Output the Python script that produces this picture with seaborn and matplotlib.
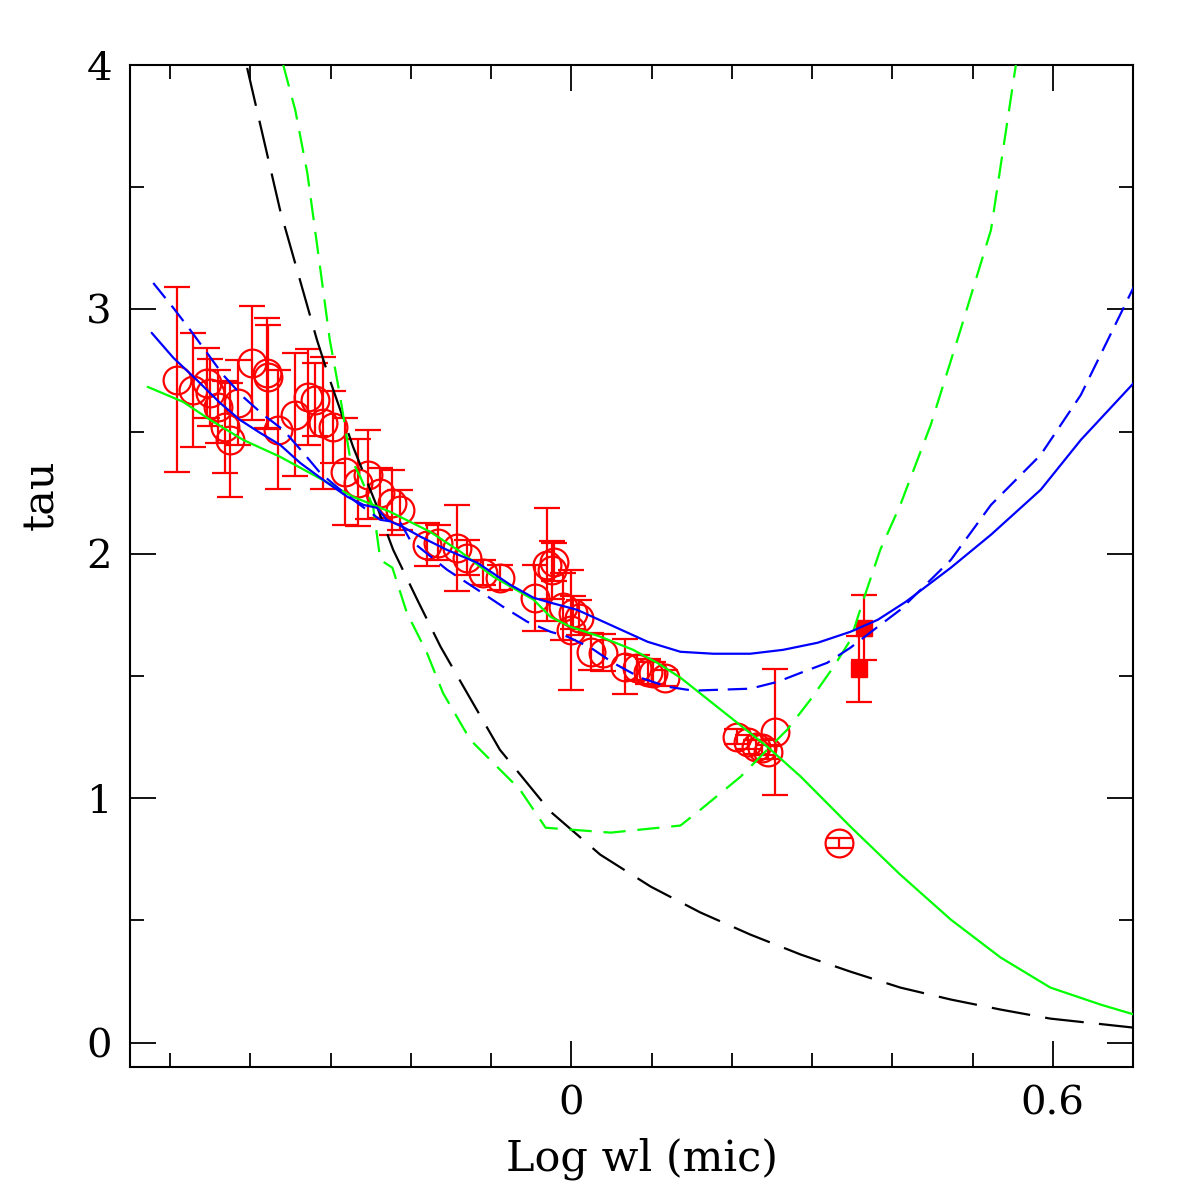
import numpy as np
import pandas as pd
import seaborn as sns
import matplotlib
matplotlib.use('Agg')
import matplotlib.pyplot as plt
from matplotlib.ticker import MultipleLocator, FormatStrFormatter

# observed extinction points (log wavelength, tau, error)
obs_x = [-0.491, -0.472, -0.454, -0.450, -0.440, -0.432, -0.425, -0.415, -0.398, -0.379,
         -0.378, -0.365, -0.344, -0.328, -0.319, -0.309, -0.297, -0.282, -0.266, -0.253,
         -0.238, -0.223, -0.213, -0.180, -0.166, -0.142, -0.130, -0.110, -0.089, -0.045,
         -0.030, -0.024, -0.022, -0.010, 0.002, 0.009, -0.001, 0.024, 0.040, 0.067,
         0.082, 0.095, 0.102, 0.117, 0.207, 0.220, 0.230, 0.238, 0.245, 0.254, 0.333]
obs_tau = [2.712, 2.671, 2.699, 2.658, 2.601, 2.519, 2.466, 2.618, 2.781, 2.740,
           2.724, 2.507, 2.569, 2.642, 2.630, 2.536, 2.519, 2.335, 2.290, 2.323,
           2.250, 2.209, 2.180, 2.037, 2.045, 2.025, 1.984, 1.922, 1.902, 1.820,
           1.955, 1.935, 1.967, 1.783, 1.759, 1.738, 1.689, 1.599, 1.595, 1.538,
           1.534, 1.517, 1.513, 1.493, 1.252, 1.231, 1.211, 1.207, 1.190, 1.272, 0.818]
obs_err = [0.378, 0.233, 0.145, 0.137, 0.149, 0.190, 0.233, 0.174, 0.233, 0.225,
           0.213, 0.243, 0.252, 0.196, 0.150, 0.270, 0.149, 0.219, 0.178, 0.182,
           0.102, 0.133, 0.082, 0.088, 0.072, 0.176, 0.072, 0.051, 0.051, 0.135,
           0.231, 0.119, 0.078, 0.137, 0.067, 0.072, 0.245, 0.076, 0.076, 0.112,
           0.051, 0.051, 0.045, 0.033, 0.029, 0.029, 0.029, 0.029, 0.029, 0.258, 0.020]

# two near-IR points (filled squares)
sq_x = [0.365, 0.359]
sq_tau = [1.697, 1.530]
sq_err = [0.133, 0.135]

# model curves
blue_x = [-0.523, -0.496, -0.467, -0.438, -0.413, -0.388, -0.363, -0.338, -0.304, -0.279,
          -0.259, -0.242, -0.230, -0.210, -0.188, -0.155, -0.117, -0.076, -0.047, -0.026,
          0.007, 0.040, 0.095, 0.136, 0.177, 0.223, 0.264, 0.307, 0.348, 0.382,
          0.417, 0.473, 0.523, 0.585, 0.635, 0.701]
blue_y = [2.904, 2.802, 2.712, 2.618, 2.548, 2.495, 2.446, 2.372, 2.290, 2.233,
          2.200, 2.188, 2.139, 2.110, 2.070, 2.016, 1.963, 1.873, 1.820, 1.800,
          1.771, 1.722, 1.640, 1.599, 1.591, 1.591, 1.607, 1.636, 1.681, 1.730,
          1.804, 1.943, 2.078, 2.262, 2.466, 2.699]

bdash_x = [-0.521, -0.496, -0.475, -0.454, -0.434, -0.409, -0.384, -0.359, -0.334, -0.313,
           -0.288, -0.267, -0.238, -0.213, -0.201, -0.155, -0.117, -0.085, -0.055, -0.026,
           -0.005, 0.024, 0.052, 0.086, 0.120, 0.152, 0.223, 0.257, 0.286, 0.319,
           0.348, 0.377, 0.410, 0.473, 0.523, 0.585, 0.635, 0.701]
bdash_y = [3.108, 3.006, 2.916, 2.822, 2.732, 2.642, 2.569, 2.507, 2.413, 2.331,
           2.262, 2.209, 2.139, 2.127, 2.057, 1.935, 1.853, 1.783, 1.722, 1.681,
           1.661, 1.616, 1.554, 1.493, 1.456, 1.440, 1.448, 1.476, 1.513, 1.554,
           1.616, 1.689, 1.771, 1.975, 2.200, 2.405, 2.650, 3.092]

green_x = [-0.528, -0.484, -0.450, -0.409, -0.363, -0.317, -0.272, -0.226, -0.176, -0.138,
           -0.097, -0.047, -0.026, -0.001, 0.036, 0.077, 0.107, 0.136, 0.202, 0.244,
           0.286, 0.348, 0.410, 0.473, 0.535, 0.597, 0.660, 0.701]
green_y = [2.683, 2.622, 2.548, 2.466, 2.397, 2.315, 2.233, 2.172, 2.090, 2.008,
           1.906, 1.812, 1.742, 1.701, 1.661, 1.607, 1.554, 1.493, 1.321, 1.211,
           1.088, 0.883, 0.687, 0.503, 0.348, 0.225, 0.155, 0.115]

gdash_x = [-0.359, -0.344, -0.329, -0.316, -0.301, -0.288, -0.276, -0.263, -0.247, -0.238,
           -0.223, -0.205, -0.180, -0.160, -0.126, -0.089, -0.064, -0.032, 0.049, 0.136,
           0.161, 0.211, 0.244, 0.269, 0.298, 0.327, 0.348, 0.364, 0.385, 0.410,
           0.448, 0.485, 0.523, 0.554]
gdash_y = [4.000, 3.815, 3.558, 3.243, 2.875, 2.642, 2.397, 2.315, 2.192, 1.975,
           1.943, 1.759, 1.595, 1.431, 1.239, 1.117, 1.035, 0.879, 0.859, 0.888,
           0.953, 1.088, 1.198, 1.280, 1.403, 1.538, 1.648, 1.812, 2.016, 2.200,
           2.528, 2.916, 3.325, 4.000]

black_x = [-0.404, -0.363, -0.317, -0.301, -0.272, -0.242, -0.222, -0.192, -0.163, -0.130,
           -0.089, -0.026, 0.036, 0.099, 0.161, 0.223, 0.286, 0.348, 0.410, 0.473,
           0.535, 0.597, 0.701]
black_y = [3.988, 3.407, 2.875, 2.712, 2.438, 2.192, 2.016, 1.812, 1.620, 1.431,
           1.198, 0.945, 0.769, 0.638, 0.532, 0.442, 0.360, 0.290, 0.225, 0.176,
           0.135, 0.098, 0.061]

sns.set_style('ticks')
plt.rcParams['font.family'] = 'DejaVu Serif'
plt.rcParams['lines.scale_dashes'] = False

fig = plt.figure(figsize=(11.96, 11.96), dpi=100)
ax = fig.add_axes([130/1196, 1 - 1067/1196, 1003/1196, 1002/1196])

# data points
ax.errorbar(obs_x, obs_tau, yerr=obs_err, fmt='o', color='red', mfc='none', mec='red',
            ms=20, mew=1.6, elinewidth=1.6, capsize=9.5, capthick=1.6, zorder=2)
ax.errorbar(sq_x, sq_tau, yerr=sq_err, fmt='s', color='red', ms=12,
            elinewidth=1.6, capsize=9.5, capthick=1.6, zorder=2)

curves = [
    (black_x, black_y, 'black', (0, (28, 11))),
    (gdash_x, gdash_y, '#00ff00', (0, (16, 8.5))),
    (green_x, green_y, '#00ff00', '-'),
    (bdash_x, bdash_y, 'blue', (0, (14, 7))),
    (blue_x, blue_y, 'blue', '-'),
]
for cx, cy, col, ls in curves:
    df = pd.DataFrame({'x': cx, 'y': cy})
    sns.lineplot(data=df, x='x', y='y', ax=ax, color=col, linestyle=ls, lw=1.6,
                 sort=False, estimator=None, zorder=3)

ax.set_xlim(-0.55, 0.70)
ax.set_ylim(-0.1, 4.0)
ax.xaxis.set_major_locator(MultipleLocator(0.6))
ax.xaxis.set_minor_locator(MultipleLocator(0.1))
ax.yaxis.set_major_locator(MultipleLocator(1))
ax.yaxis.set_minor_locator(MultipleLocator(0.5))
ax.xaxis.set_major_formatter(FormatStrFormatter('%g'))
ax.yaxis.set_major_formatter(FormatStrFormatter('%g'))
ax.tick_params(which='both', direction='in', top=True, right=True, width=1.3,
               labelsize=29, pad=13, colors='black')
ax.tick_params(which='major', length=19)
ax.tick_params(which='minor', length=10)
for s in ax.spines.values():
    s.set_linewidth(1.5)
    s.set_color('black')

ax.set_xlabel('Log wl (mic)', fontsize=31, color='black')
ax.set_ylabel('tau', fontsize=31, color='black')
ax.xaxis.set_label_coords(0.51, -0.070)
ax.yaxis.set_label_coords(-0.068, 0.571)

fig.savefig('out.png', dpi=100)
